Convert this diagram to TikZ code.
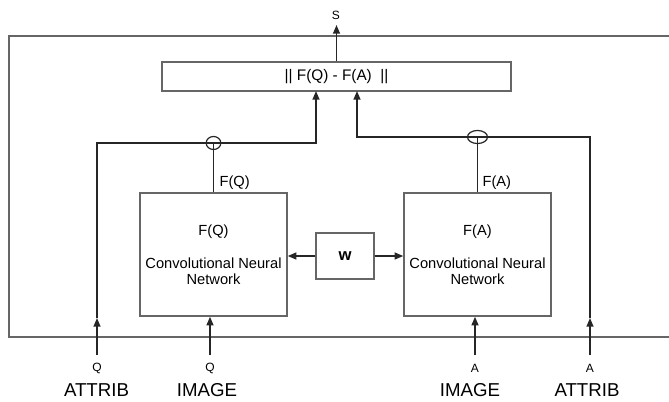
\documentclass[tikz,border=0pt]{standalone}
\usepackage{fontspec}
\setmainfont{Liberation Sans}
\usetikzlibrary{arrows.meta,shapes.geometric}
\begin{document}
\begin{tikzpicture}[x=0.75pt,y=-0.75pt,
  box/.style={draw=black!60, line width=1.1pt, inner sep=0pt, align=center},
  wire/.style={draw=black!85, line width=1.1pt},
  arr/.style={wire,-{Triangle[length=6.5pt,width=5.2pt]}},
  frame/.style={draw=black!60, line width=1.1pt},
  joint/.style={draw=black!85, line width=0.9pt, ellipse, inner sep=0pt},
  small/.style={font=\fontsize{9}{10}\selectfont, inner sep=1pt},
  mid/.style={font=\fontsize{11}{12}\selectfont, inner sep=1pt},
  big/.style={font=\fontsize{14}{15}\selectfont, inner sep=0pt, anchor=base}]
\useasboundingbox (0,0) rectangle (669,401);
% outer frame (open at the right edge)
\draw[frame] (669,36) -| (9,337) -- (669,337);
% boxes
\node[box, minimum width=261.75pt, minimum height=21.75pt, font=\fontsize{11.5}{12}\selectfont] (diff) at (336.5,76.5) {|| F(Q) - F(A)\ \ ||};
\node[box, minimum width=110.25pt, minimum height=92.25pt, font=\fontsize{11}{12}\selectfont] (cnnq) at (213.5,254.5) {F(Q)\\[12.75pt]Convolutional Neural\\Network};
\node[box, minimum width=110.25pt, minimum height=92.25pt, font=\fontsize{11}{12}\selectfont] (cnna) at (477.5,254.5) {F(A)\\[12.75pt]Convolutional Neural\\Network};
\node[box, minimum width=43.5pt, minimum height=34.5pt, font=\fontsize{12.5}{13}\selectfont\bfseries] (w) at (345,256) {w};
% joints
\node[joint, minimum width=11pt, minimum height=9.8pt] (jq) at (213.5,143) {};
\node[joint, minimum width=15pt, minimum height=9.8pt] (ja) at (477.5,137) {};
% coordinates
\coordinate (dq) at (316,91);
\coordinate (da) at (357,91);
\coordinate (qa0) at (97,355);
\coordinate (qa1) at (97,318);
\coordinate (aa0) at (590,355);
\coordinate (aa1) at (590,318);
\coordinate (iq) at (210,355);
\coordinate (ia) at (475,355);
\coordinate (st) at (336.5,25);
% S output
\draw[arr] (diff.north) -- (st);
\node[small] (slab) at (336,15) {S};
% attribute paths
\draw[arr] (qa0) -- (qa1);
\draw[wire] (qa1) |- (jq.center);
\draw[arr] (jq.center) -| (dq);
\draw[arr] (aa0) -- (aa1);
\draw[wire] (aa1) |- (ja.center);
\draw[arr] (ja.center) -| (da);
% CNN outputs
\draw[wire] (cnnq.north) -- (jq.center);
\draw[wire] (cnna.north) -- (ja.center);
\node[mid, anchor=west] (fql) at (218,183) {F(Q)};
\node[mid, anchor=west] (fal) at (481,183) {F(A)};
% image inputs
\draw[arr] (iq) -- (iq |- cnnq.south);
\draw[arr] (ia) -- (ia |- cnna.south);
% shared weights
\draw[arr] (w.west) -- (w.west -| cnnq.east);
\draw[arr] (w.east) -- (w.east -| cnna.west);
% bottom labels
\node[small] (lq1) at (97,368) {Q};
\node[small] (lq2) at (210,368) {Q};
\node[small] (la1) at (475,368) {A};
\node[small] (la2) at (590,368) {A};
\node[big] (t1) at (96.5,396) {ATTRIB};
\node[big] (t2) at (207,396) {IMAGE};
\node[big] (t3) at (470,396) {IMAGE};
\node[big] (t4) at (587,396) {ATTRIB};
\end{tikzpicture}
\end{document}
